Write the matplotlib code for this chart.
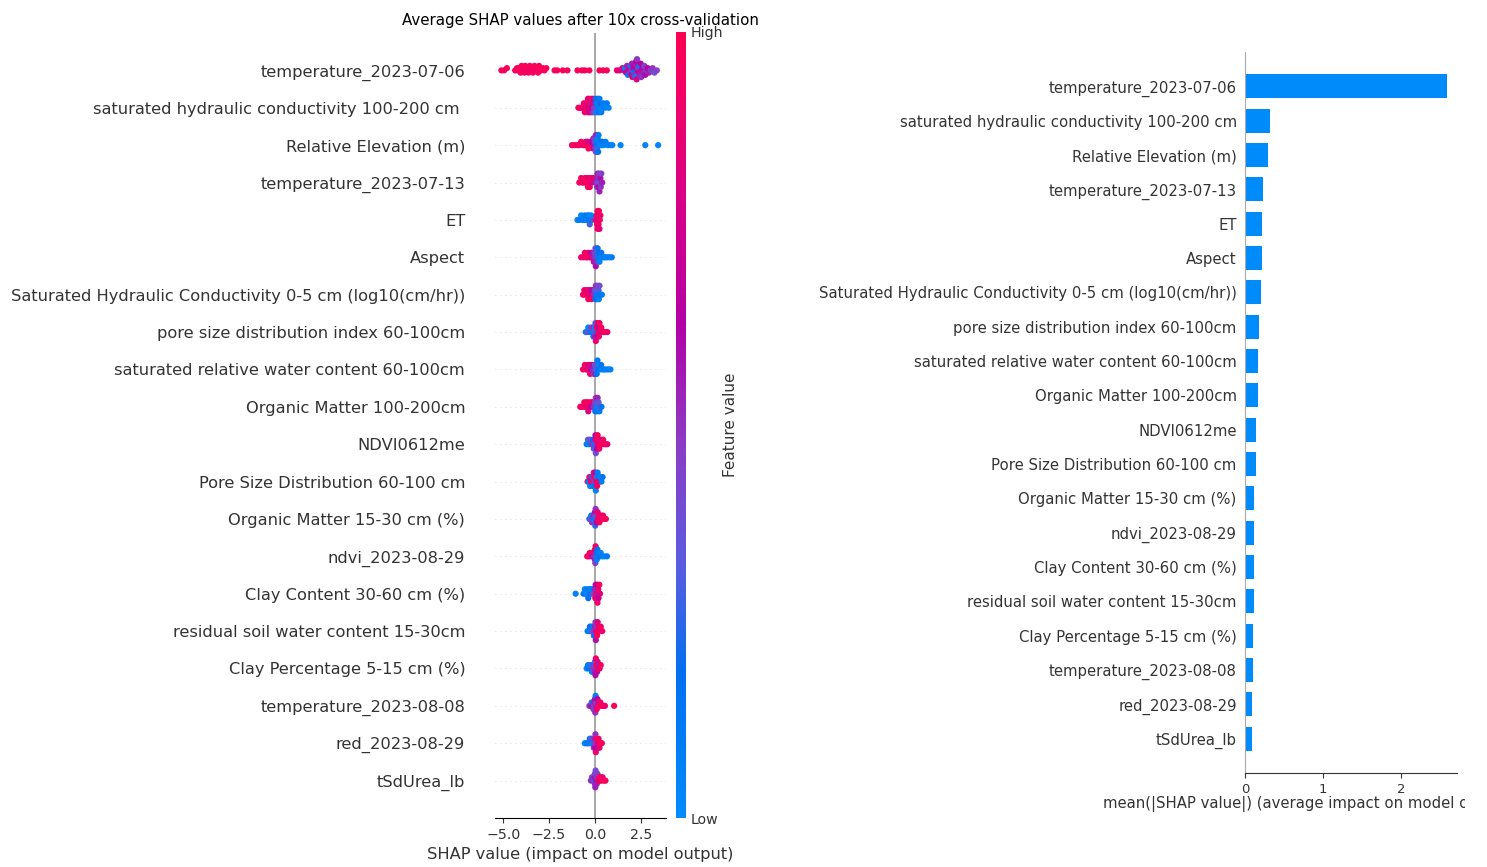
import numpy as np
import matplotlib
matplotlib.use("Agg")
import matplotlib.pyplot as plt
from matplotlib.colors import LinearSegmentedColormap
from matplotlib.cm import ScalarMappable
from matplotlib.transforms import Bbox, TransformedBbox

## feature names, most important first
features = [
    "temperature_2023-07-06",
    "saturated hydraulic conductivity 100-200 cm ",
    "Relative Elevation (m)",
    "temperature_2023-07-13",
    "ET",
    "Aspect",
    "Saturated Hydraulic Conductivity 0-5 cm (log10(cm/hr))",
    "pore size distribution index 60-100cm",
    "saturated relative water content 60-100cm",
    "Organic Matter 100-200cm",
    "NDVI0612me",
    "Pore Size Distribution 60-100 cm",
    "Organic Matter 15-30 cm (%)",
    "ndvi_2023-08-29",
    "Clay Content 30-60 cm (%)",
    "residual soil water content 15-30cm",
    "Clay Percentage 5-15 cm (%)",
    "temperature_2023-08-08",
    "red_2023-08-29",
    "tSdUrea_lb",
]

## mean(|SHAP|) for the bar panel
mean_abs_shap = [2.59, 0.32, 0.30, 0.23, 0.22, 0.22, 0.20, 0.18, 0.17, 0.17,
                 0.14, 0.14, 0.12, 0.11, 0.11, 0.11, 0.10, 0.10, 0.09, 0.09]

## (shap value, scaled feature value) pairs
temp_0706 = [
    (-5.10, 0.97), (-4.95, 0.95), (-4.80, 0.97),
    (-4.35, 0.95), (-4.25, 0.97), (-4.20, 0.92), (-4.12, 0.97), (-4.05, 0.95),
    (-4.00, 0.97), (-3.95, 0.93), (-3.90, 0.97), (-3.85, 0.95), (-3.80, 0.97),
    (-3.75, 0.95), (-3.70, 0.97), (-3.62, 0.92), (-3.55, 0.97), (-3.50, 0.95),
    (-3.45, 0.97), (-3.38, 0.95), (-3.30, 0.97), (-3.25, 0.93), (-3.20, 0.97),
    (-3.10, 0.95), (-3.05, 0.97), (-2.95, 0.95), (-2.85, 0.97), (-2.75, 0.95),
    (-2.65, 0.97),
    (-2.20, 0.97), (-2.05, 0.95), (-1.75, 0.97), (-1.50, 0.95),
    (-0.95, 0.97), (-0.70, 0.95), (-0.55, 0.97), (-0.30, 0.95),
    (0.25, 0.97), (0.45, 0.95), (0.65, 0.97),
    (1.20, 0.90), (1.35, 0.85), (1.50, 0.80), (1.60, 0.60), (1.65, 0.05),
    (1.70, 0.75), (1.75, 0.55), (1.80, 0.10), (1.85, 0.60), (1.90, 0.80),
    (1.92, 0.50), (1.95, 0.10), (2.00, 0.65), (2.02, 0.55), (2.05, 0.85),
    (2.08, 0.45), (2.10, 0.60), (2.12, 0.15), (2.15, 0.70), (2.18, 0.50),
    (2.20, 0.55), (2.22, 0.05), (2.25, 0.65), (2.28, 0.80), (2.30, 0.50),
    (2.33, 0.60), (2.36, 0.45), (2.40, 0.70), (2.43, 0.10), (2.46, 0.55),
    (2.50, 0.65), (2.53, 0.50), (2.56, 0.75), (2.60, 0.60), (2.65, 0.55),
    (2.70, 0.45), (2.75, 0.60), (2.80, 0.50), (2.88, 0.65), (2.95, 0.55),
    (3.05, 0.45), (3.15, 0.50), (3.25, 0.40), (3.38, 0.45),
]
sat_hydr_100_200 = [
    (-0.90, 0.95), (-0.80, 0.90), (-0.72, 0.97), (-0.65, 0.85), (-0.60, 0.95),
    (-0.55, 0.90), (-0.50, 0.97), (-0.48, 0.80), (-0.45, 0.95), (-0.42, 0.85),
    (-0.40, 0.97), (-0.38, 0.90), (-0.35, 0.75), (-0.32, 0.95), (-0.30, 0.60),
    (-0.28, 0.90), (-0.25, 0.97), (-0.22, 0.55), (-0.20, 0.85), (-0.18, 0.95),
    (-0.15, 0.65), (-0.12, 0.90), (-0.10, 0.50), (-0.08, 0.80), (-0.05, 0.45),
    (0.00, 0.55), (0.02, 0.30), (0.05, 0.15), (0.08, 0.40), (0.10, 0.10),
    (0.12, 0.05), (0.15, 0.20), (0.18, 0.10), (0.20, 0.05), (0.22, 0.15),
    (0.25, 0.10), (0.28, 0.05), (0.30, 0.20), (0.35, 0.10), (0.40, 0.05),
    (0.45, 0.10), (0.55, 0.05), (0.65, 0.10), (0.75, 0.05),
]
rel_elev = [
    (-1.25, 0.97), (-1.10, 0.95), (-0.95, 0.90), (-0.85, 0.97), (-0.75, 0.95),
    (-0.65, 0.85), (-0.58, 0.97), (-0.50, 0.90), (-0.45, 0.95), (-0.40, 0.80),
    (-0.35, 0.97), (-0.30, 0.90), (-0.25, 0.75), (-0.20, 0.95), (-0.15, 0.65),
    (-0.10, 0.85), (-0.08, 0.55), (-0.05, 0.60), (-0.02, 0.45), (0.00, 0.50),
    (0.02, 0.40), (0.05, 0.35), (0.05, 0.55), (0.08, 0.20), (0.10, 0.10),
    (0.12, 0.30), (0.15, 0.05), (0.18, 0.15), (0.20, 0.10), (0.25, 0.05),
    (0.30, 0.10), (0.35, 0.05), (0.40, 0.15), (0.48, 0.05), (0.58, 0.10),
    (0.70, 0.05), (0.85, 0.10), (0.95, 0.05), (1.40, 0.05), (2.75, 0.05),
    (3.45, 0.05),
]
temp_0713 = [
    (-0.85, 0.97), (-0.75, 0.95), (-0.68, 0.90), (-0.60, 0.97), (-0.55, 0.95),
    (-0.50, 0.85), (-0.45, 0.97), (-0.42, 0.90), (-0.38, 0.95), (-0.35, 0.97),
    (-0.30, 0.85), (-0.28, 0.95), (-0.25, 0.90), (-0.20, 0.97), (-0.15, 0.80),
    (-0.10, 0.90), (0.05, 0.60), (0.08, 0.50), (0.10, 0.55), (0.12, 0.45),
    (0.15, 0.60), (0.17, 0.40), (0.20, 0.50), (0.20, 0.65), (0.22, 0.45),
    (0.25, 0.55), (0.28, 0.40), (0.30, 0.60), (0.32, 0.50), (0.35, 0.45),
    (0.40, 0.55),
]
et = [
    (-0.95, 0.05), (-0.85, 0.10), (-0.75, 0.05), (-0.68, 0.15), (-0.60, 0.05),
    (-0.55, 0.10), (-0.50, 0.20), (-0.45, 0.05), (-0.40, 0.10), (-0.35, 0.15),
    (-0.32, 0.05), (-0.28, 0.30), (-0.25, 0.10), (-0.20, 0.05), (-0.15, 0.25),
    (0.05, 0.90), (0.08, 0.97), (0.10, 0.85), (0.12, 0.95), (0.15, 0.90),
    (0.15, 0.97), (0.17, 0.80), (0.20, 0.95), (0.20, 0.90), (0.22, 0.97),
    (0.25, 0.85), (0.27, 0.95), (0.30, 0.90),
]
aspect = [
    (-0.75, 0.95), (-0.62, 0.90), (-0.55, 0.97), (-0.48, 0.85), (-0.42, 0.95),
    (-0.36, 0.90), (-0.30, 0.75), (-0.25, 0.95), (-0.20, 0.65), (-0.15, 0.85),
    (-0.10, 0.55), (-0.06, 0.60), (-0.03, 0.50), (0.00, 0.45), (0.00, 0.55),
    (0.03, 0.40), (0.05, 0.60), (0.08, 0.45), (0.10, 0.30), (0.12, 0.50),
    (0.15, 0.15), (0.18, 0.10), (0.22, 0.20), (0.25, 0.05), (0.30, 0.10),
    (0.35, 0.15), (0.42, 0.05), (0.50, 0.10), (0.58, 0.05), (0.68, 0.10),
    (0.80, 0.05), (0.92, 0.10),
]
sat_hydr_0_5 = [
    (-0.65, 0.95), (-0.58, 0.90), (-0.52, 0.97), (-0.48, 0.85), (-0.44, 0.95),
    (-0.40, 0.90), (-0.36, 0.97), (-0.32, 0.80), (-0.28, 0.95), (-0.25, 0.90),
    (-0.22, 0.70), (-0.18, 0.95), (-0.14, 0.85), (-0.10, 0.60), (-0.05, 0.50),
    (0.00, 0.40), (0.03, 0.15), (0.05, 0.50), (0.08, 0.10), (0.10, 0.35),
    (0.12, 0.20), (0.15, 0.45), (0.18, 0.10), (0.20, 0.30), (0.22, 0.05),
    (0.25, 0.40), (0.30, 0.15), (0.38, 0.10),
]
pore_idx_60_100 = [
    (-0.50, 0.10), (-0.42, 0.30), (-0.36, 0.05), (-0.30, 0.45), (-0.25, 0.15),
    (-0.20, 0.40), (-0.15, 0.10), (-0.10, 0.50), (-0.08, 0.20), (-0.05, 0.35),
    (0.00, 0.05), (0.00, 0.55), (0.03, 0.30), (0.05, 0.90), (0.08, 0.10),
    (0.10, 0.95), (0.12, 0.60), (0.15, 0.85), (0.18, 0.97), (0.20, 0.70),
    (0.22, 0.90), (0.25, 0.95), (0.30, 0.85), (0.35, 0.97), (0.42, 0.90),
    (0.50, 0.95), (0.58, 0.97), (0.68, 0.90),
]
sat_rel_water = [
    (-0.65, 0.95), (-0.55, 0.90), (-0.48, 0.97), (-0.42, 0.85), (-0.38, 0.95),
    (-0.34, 0.90), (-0.30, 0.75), (-0.26, 0.95), (-0.22, 0.65), (-0.18, 0.90),
    (-0.14, 0.55), (-0.10, 0.60), (-0.06, 0.45), (-0.02, 0.50), (0.00, 0.35),
    (0.03, 0.60), (0.06, 0.30), (0.08, 0.40), (0.10, 0.15), (0.14, 0.10),
    (0.18, 0.20), (0.22, 0.05), (0.28, 0.10), (0.34, 0.15), (0.42, 0.05),
    (0.50, 0.10), (0.60, 0.05), (0.72, 0.10), (0.85, 0.05),
]
om_100_200 = [
    (-0.80, 0.97), (-0.72, 0.95), (-0.64, 0.90), (-0.58, 0.97), (-0.52, 0.85),
    (-0.48, 0.95), (-0.44, 0.90), (-0.40, 0.97), (-0.36, 0.80), (-0.32, 0.95),
    (-0.28, 0.90), (-0.24, 0.70), (-0.20, 0.95), (-0.15, 0.60), (-0.10, 0.85),
    (-0.05, 0.50), (0.00, 0.45), (0.02, 0.20), (0.05, 0.50), (0.08, 0.10),
    (0.10, 0.40), (0.12, 0.15), (0.15, 0.55), (0.18, 0.05), (0.20, 0.35),
    (0.25, 0.10), (0.30, 0.45), (0.36, 0.15),
]
ndvi_0612 = [
    (-0.45, 0.10), (-0.38, 0.30), (-0.32, 0.05), (-0.26, 0.40), (-0.20, 0.15),
    (-0.15, 0.50), (-0.10, 0.20), (-0.06, 0.45), (-0.02, 0.10), (0.00, 0.55),
    (0.00, 0.30), (0.03, 0.60), (0.05, 0.40), (0.08, 0.50), (0.10, 0.90),
    (0.12, 0.65), (0.15, 0.97), (0.18, 0.85), (0.20, 0.95), (0.24, 0.90),
    (0.28, 0.97), (0.32, 0.85), (0.38, 0.95), (0.45, 0.90), (0.52, 0.97),
    (0.60, 0.95), (0.68, 0.90),
]
pore_60_100 = [
    (-0.40, 0.95), (-0.35, 0.10), (-0.30, 0.90), (-0.26, 0.05), (-0.22, 0.85),
    (-0.18, 0.20), (-0.15, 0.97), (-0.12, 0.50), (-0.10, 0.10), (-0.06, 0.90),
    (-0.03, 0.40), (0.00, 0.95), (0.00, 0.15), (0.03, 0.60), (0.05, 0.05),
    (0.08, 0.90), (0.10, 0.30), (0.12, 0.97), (0.15, 0.10), (0.18, 0.85),
    (0.22, 0.20), (0.26, 0.95), (0.30, 0.05), (0.36, 0.10), (0.42, 0.15),
]
om_15_30 = [
    (-0.30, 0.20), (-0.24, 0.40), (-0.20, 0.10), (-0.16, 0.50), (-0.12, 0.30),
    (-0.08, 0.55), (-0.05, 0.15), (-0.02, 0.45), (0.00, 0.35), (0.00, 0.60),
    (0.02, 0.25), (0.04, 0.50), (0.06, 0.10), (0.08, 0.40), (0.10, 0.65),
    (0.15, 0.90), (0.18, 0.97), (0.22, 0.85), (0.25, 0.95), (0.30, 0.90),
    (0.34, 0.97), (0.38, 0.95), (0.45, 0.90), (0.52, 0.97), (0.60, 0.95),
]
ndvi_0829 = [
    (-0.42, 0.95), (-0.34, 0.90), (-0.28, 0.97), (-0.22, 0.85), (-0.16, 0.95),
    (-0.12, 0.60), (-0.08, 0.90), (-0.05, 0.50), (-0.02, 0.97), (0.00, 0.55),
    (0.00, 0.85), (0.02, 0.45), (0.04, 0.95), (0.06, 0.40), (0.08, 0.20),
    (0.10, 0.10), (0.14, 0.15), (0.18, 0.05), (0.22, 0.10), (0.26, 0.20),
    (0.32, 0.05), (0.40, 0.10), (0.52, 0.05), (0.66, 0.10),
]
clay_30_60 = [
    (-1.05, 0.05), (-0.62, 0.10), (-0.55, 0.05), (-0.50, 0.15), (-0.45, 0.05),
    (-0.40, 0.10), (-0.36, 0.20), (-0.32, 0.05), (-0.28, 0.10), (-0.24, 0.15),
    (-0.20, 0.05), (-0.15, 0.30), (-0.10, 0.10), (-0.05, 0.40), (0.00, 0.55),
    (0.02, 0.90), (0.04, 0.60), (0.06, 0.97), (0.08, 0.50), (0.10, 0.85),
    (0.12, 0.65), (0.14, 0.95), (0.16, 0.55), (0.18, 0.90), (0.20, 0.70),
    (0.24, 0.95), (0.28, 0.85),
]
residual_15_30 = [
    (-0.40, 0.05), (-0.32, 0.10), (-0.27, 0.20), (-0.22, 0.05), (-0.18, 0.15),
    (-0.14, 0.40), (-0.10, 0.10), (-0.06, 0.30), (-0.03, 0.50), (0.00, 0.55),
    (0.00, 0.20), (0.03, 0.45), (0.05, 0.60), (0.08, 0.90), (0.10, 0.50),
    (0.12, 0.97), (0.15, 0.85), (0.18, 0.95), (0.22, 0.90), (0.26, 0.97),
    (0.32, 0.95), (0.40, 0.90),
]
clay_5_15 = [
    (-0.45, 0.05), (-0.38, 0.10), (-0.32, 0.20), (-0.28, 0.05), (-0.24, 0.15),
    (-0.20, 0.30), (-0.16, 0.10), (-0.12, 0.40), (-0.08, 0.20), (-0.05, 0.50),
    (-0.02, 0.45), (0.00, 0.55), (0.00, 0.35), (0.03, 0.60), (0.05, 0.90),
    (0.08, 0.50), (0.10, 0.97), (0.12, 0.65), (0.15, 0.85), (0.18, 0.95),
    (0.22, 0.55), (0.26, 0.90), (0.32, 0.95),
]
temp_0808 = [
    (-0.30, 0.45), (-0.24, 0.55), (-0.18, 0.40), (-0.14, 0.60), (-0.10, 0.15),
    (-0.08, 0.50), (-0.05, 0.45), (-0.02, 0.55), (0.00, 0.40), (0.00, 0.60),
    (0.02, 0.50), (0.04, 0.10), (0.06, 0.55), (0.08, 0.45), (0.10, 0.90),
    (0.14, 0.65), (0.18, 0.95), (0.22, 0.85), (0.26, 0.97), (0.30, 0.90),
    (0.38, 0.95), (0.48, 0.97), (0.55, 0.90), (1.05, 0.97),
]
red_0829 = [
    (-0.55, 0.05), (-0.46, 0.10), (-0.40, 0.20), (-0.34, 0.05), (-0.28, 0.15),
    (-0.24, 0.10), (-0.20, 0.30), (-0.15, 0.05), (-0.10, 0.40), (-0.06, 0.50),
    (-0.03, 0.45), (0.00, 0.55), (0.00, 0.60), (0.03, 0.50), (0.05, 0.90),
    (0.08, 0.45), (0.10, 0.97), (0.13, 0.60), (0.16, 0.85), (0.20, 0.95),
    (0.25, 0.90), (0.32, 0.97), (0.38, 0.95),
]
tsdurea = [
    (-0.22, 0.50), (-0.16, 0.45), (-0.10, 0.55), (-0.06, 0.40), (-0.04, 0.05),
    (-0.02, 0.60), (0.00, 0.50), (0.00, 0.45), (0.02, 0.55), (0.04, 0.40),
    (0.06, 0.60), (0.08, 0.50), (0.10, 0.55), (0.14, 0.45), (0.20, 0.90),
    (0.24, 0.97), (0.28, 0.85), (0.32, 0.95), (0.36, 0.97), (0.42, 0.90),
    (0.50, 0.95), (0.58, 0.97),
]

rows = [temp_0706, sat_hydr_100_200, rel_elev, temp_0713, et, aspect,
        sat_hydr_0_5, pore_idx_60_100, sat_rel_water, om_100_200, ndvi_0612,
        pore_60_100, om_15_30, ndvi_0829, clay_30_60, residual_15_30,
        clay_5_15, temp_0808, red_0829, tsdurea]

## shap-like red/blue colormap
red_blue = LinearSegmentedColormap.from_list("red_blue", [
    (0.00, "#008bfb"), (0.18, "#006ff0"), (0.32, "#5a5ce0"),
    (0.48, "#8c3bc4"), (0.63, "#b300a6"), (0.80, "#db0084"),
    (1.00, "#ff0052")])

label_col = "#333333"


def swarm(vals, width, row_height=0.4):
    # stack points falling in the same x bin, alternating up / down
    quant = np.round(vals / width)
    order = np.argsort(quant, kind="stable")
    ys = np.zeros(len(vals))
    layer = 0
    last = None
    for i in order:
        if quant[i] != last:
            layer = 0
        ys[i] = np.ceil(layer / 2) * ((layer % 2) * 2 - 1)
        layer += 1
        last = quant[i]
    ys *= 0.9 * (row_height / np.max(ys + 1))
    return ys


fig = plt.figure(figsize=(14.87, 8.67), dpi=100)
W, H = 1487.0, 867.0

##beeswarm
ax1 = fig.add_axes([495 / W, 1 - 818 / H, 171 / W, 785 / H])
n = len(features)
ax1.axvline(0, color="#999999", lw=1.2, zorder=-1)
for k, pts in enumerate(rows):
    pos = n - 1 - k
    arr = np.array(pts)
    sv, fv = arr[:, 0], arr[:, 1]
    width = max(0.1, (sv.max() - sv.min()) / 35)
    ys = swarm(sv, width)
    ax1.axhline(pos, color="#cccccc", lw=0.6, dashes=(1, 5), zorder=-1)
    ax1.scatter(sv, pos + ys, c=fv, cmap=red_blue, vmin=0, vmax=1, s=20,
                linewidths=0, zorder=3)
ax1.set_xlim(-5.45, 3.88)
ax1.set_ylim(-1, n)
ax1.set_yticks(range(n))
ax1.set_yticklabels(features[::-1], fontsize=11.7, color=label_col)
ax1.tick_params(axis="y", length=0, pad=21.5)
ax1.set_xticks([-5.0, -2.5, 0.0, 2.5])
ax1.tick_params(axis="x", labelsize=10.2, labelcolor=label_col, color=label_col)
for s in ["left", "right", "top"]:
    ax1.spines[s].set_visible(False)
ax1.set_xlabel("SHAP value (impact on model output)", fontsize=11.7, color=label_col)
ax1.set_title("Average SHAP values after 10x cross-validation", fontsize=10.8)

##colorbar
cax = fig.add_axes([676 / W, 1 - 818 / H, 10 / W, 786 / H])
sm = ScalarMappable(cmap=red_blue)
sm.set_array([0, 1])
cb = fig.colorbar(sm, cax=cax, ticks=[0, 1])
cb.set_ticklabels(["Low", "High"])
cb.ax.tick_params(labelsize=10.2, length=0, labelcolor=label_col)
cb.set_label("Feature value", size=11, labelpad=0, color=label_col)
cb.outline.set_visible(False)

##bar panel
ax2 = fig.add_axes([1245 / W, 1 - 773 / H, 212 / W, 721 / H])
ypos = np.arange(n)[::-1]
ax2.barh(ypos, mean_abs_shap, 0.7, align="center", color="#008bfb")
ax2.set_ylim(-1, n)
ax2.set_xlim(0, 2.72)
ax2.set_yticks(ypos)
ax2.set_yticklabels([f.strip() for f in features], fontsize=10.7, color=label_col)
ax2.tick_params(axis="y", length=0, pad=6)
ax2.set_xticks([0, 1, 2])
ax2.tick_params(axis="x", labelsize=9.5, labelcolor=label_col, color=label_col)
ax2.spines["right"].set_visible(False)
ax2.spines["top"].set_visible(False)
ax2.spines["left"].set_color("#aaaaaa")
ax2.spines["bottom"].set_color(label_col)
ax2.set_xlabel("mean(|SHAP value|) (average impact on model output)",
               fontsize=10.75, color=label_col)
# the source image is cut at the right edge, label included
xl = ax2.xaxis.label
xl.set_horizontalalignment("left")
xl.set_verticalalignment("center")
ax2.xaxis.set_label_coords((1103 - 1245) / 212, (773 - 804) / 721)
xl.set_clip_box(TransformedBbox(Bbox([[0, 0], [1465 / W, 1]]), fig.transFigure))
xl.set_clip_on(True)

fig.savefig("out.png", dpi=100)
